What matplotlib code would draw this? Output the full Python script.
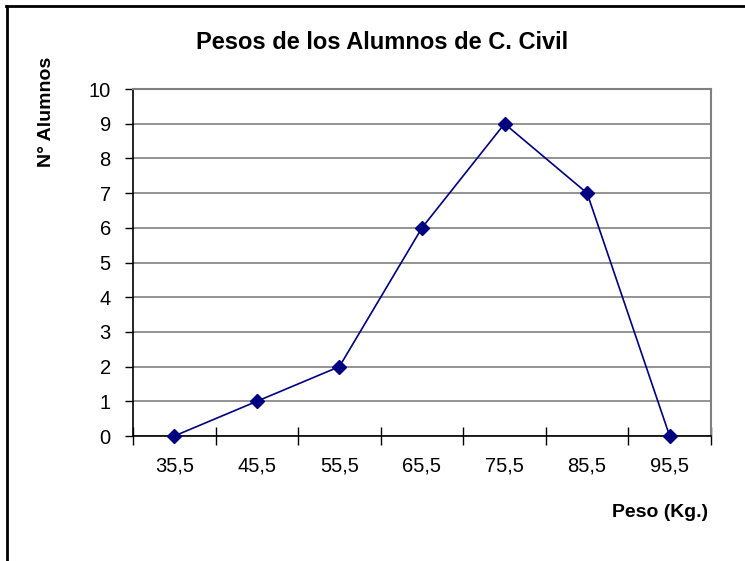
import matplotlib
matplotlib.use('Agg')
import matplotlib.pyplot as plt
from matplotlib.lines import Line2D
import numpy as np

plt.rcParams['font.family'] = ['Liberation Sans', 'DejaVu Sans']

pesos = ['35,5', '45,5', '55,5', '65,5', '75,5', '85,5', '95,5']
alumnos = [0, 1, 2, 6, 9, 7, 0]

navy = '#000080'
grey = '#808080'

fig = plt.figure(figsize=(7.45, 5.61), dpi=100)
ax = fig.add_axes([0.1785, 0.2228, 0.7758, 0.6185])

x = np.arange(len(pesos)) + 0.5
ax.plot(x, alumnos, color=navy, lw=1.2, marker='D', markersize=7,
        markerfacecolor=navy, markeredgecolor=navy, clip_on=False, zorder=3)

ax.set_xlim(0, len(pesos))
ax.set_ylim(0, 10)

# category boundaries get the tick marks, labels sit in the middle
ax.set_xticks(np.arange(len(pesos) + 1))
ax.set_xticklabels([])
ax.set_xticks(x, minor=True)
ax.set_xticklabels(pesos, minor=True, fontsize=14.5)
ax.tick_params(axis='x', which='major', direction='inout', length=13, width=1, color='black')
ax.tick_params(axis='x', which='minor', length=0, pad=15)

ax.set_yticks(range(0, 11))
ax.tick_params(axis='y', direction='out', length=6, width=1, pad=10, labelsize=14.5)

ax.yaxis.grid(True, color=grey, lw=1.2)
ax.set_axisbelow(True)

for side in ['top', 'right']:
    ax.spines[side].set_color(grey)
    ax.spines[side].set_linewidth(1.5)
for side in ['left', 'bottom']:
    ax.spines[side].set_color('black')
    ax.spines[side].set_linewidth(1.2)

fig.text(0.513, 0.925, 'Pesos de los Alumnos de C. Civil', ha='center', va='center',
         fontsize=17, fontweight='bold')
fig.text(0.062, 0.80, 'N° Alumnos', ha='center', va='center', rotation=90,
         fontsize=14, fontweight='bold')
fig.text(0.950, 0.087, 'Peso (Kg.)', ha='right', va='center',
         fontsize=14, fontweight='bold')

# outer chart frame (only top and left edges are visible)
fig.add_artist(Line2D([0.008, 1.0], [0.989, 0.989], color='black', lw=2, transform=fig.transFigure))
fig.add_artist(Line2D([0.009, 0.009], [0.0, 0.989], color='black', lw=2, transform=fig.transFigure))

fig.savefig('out.png', dpi=100)
